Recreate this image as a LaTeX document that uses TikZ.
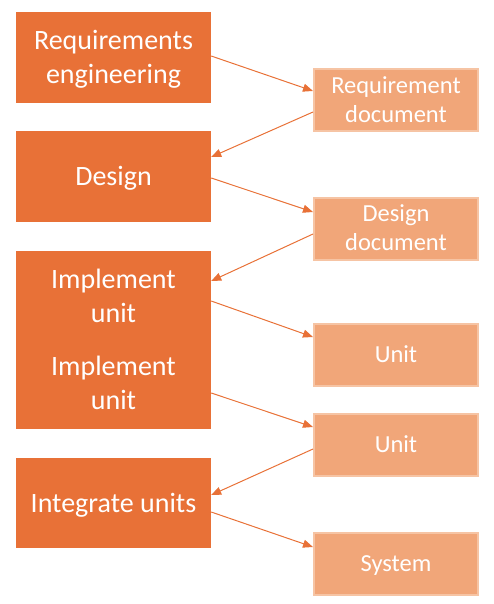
\documentclass[tikz,border=0pt]{standalone}
\usepackage{fontspec}
\setmainfont{Carlito}
\usepackage{tikz}
\usetikzlibrary{positioning,arrows.meta}
\definecolor{darkorange}{HTML}{E87137}
\definecolor{lightorange}{HTML}{F1A679}
\definecolor{paleorange}{HTML}{F6C4A4}
\newcommand{\lnstrut}{\rule[-0.25em]{0pt}{1.144em}}

\begin{document}
\begin{tikzpicture}[x=1pt,y=-1pt]
		\tikzset{activity/.style={fill=darkorange,text=white,align=center,inner sep=0pt,
			minimum width=195pt,font=\fontsize{28}{33.5}\selectfont},
			artefact/.style={fill=lightorange,draw=paleorange,line width=2pt,text=white,align=center,
			inner sep=0pt,minimum width=164pt,minimum height=62pt,font=\fontsize{24.5}{29}\selectfont},
			flow/.style={draw=darkorange,line width=1pt,-{Triangle[length=10pt,width=8pt]}}}
		\useasboundingbox (0,0) rectangle (494,604);
		\node [activity,minimum height=91pt] (reqeng) at (113.5,57.5) {\lnstrut Requirements\\\lnstrut engineering};
		\node [activity,minimum height=91pt] (design) at (113.5,176.5) {\lnstrut Design};
		\node [activity,minimum height=178pt] (impl) at (113.5,340)
			{\lnstrut Implement\\\lnstrut unit\\[20pt]\lnstrut Implement\\\lnstrut unit};
		\node [activity,minimum height=90pt] (integ) at (113.5,503) {\lnstrut Integrate units};
		\node [artefact] (reqdoc) at (396,100) {\lnstrut Requirement\\\lnstrut document};
		\node [artefact] (desdoc) at (396,228.5) {\lnstrut Design\\\lnstrut document};
		\node [artefact] (unita) at (396,355) {\lnstrut Unit};
		\node [artefact] (unitb) at (396,445) {\lnstrut Unit};
		\node [artefact] (system) at (396,564) {\lnstrut System};
		\draw [flow] ([yshift=1.5pt]reqeng.east) -- ([yshift=9pt]reqdoc.west);
		\draw [flow] ([yshift=-12pt]reqdoc.west) -- ([yshift=19.5pt]design.east);
		\draw [flow] ([yshift=-1.5pt]design.east) -- ([yshift=16.5pt]desdoc.west);
		\draw [flow] ([yshift=-5.5pt]desdoc.west) -- ([yshift=59pt]impl.east);
		\draw [flow] ([yshift=39pt]impl.east) -- ([yshift=18pt]unita.west);
		\draw [flow] ([yshift=-53pt]impl.east) -- ([yshift=18pt]unitb.west);
		\draw [flow] ([yshift=-4pt]unitb.west) -- ([yshift=8pt]integ.east);
		\draw [flow] ([yshift=-9pt]integ.east) -- ([yshift=17pt]system.west);
\end{tikzpicture}
\end{document}
